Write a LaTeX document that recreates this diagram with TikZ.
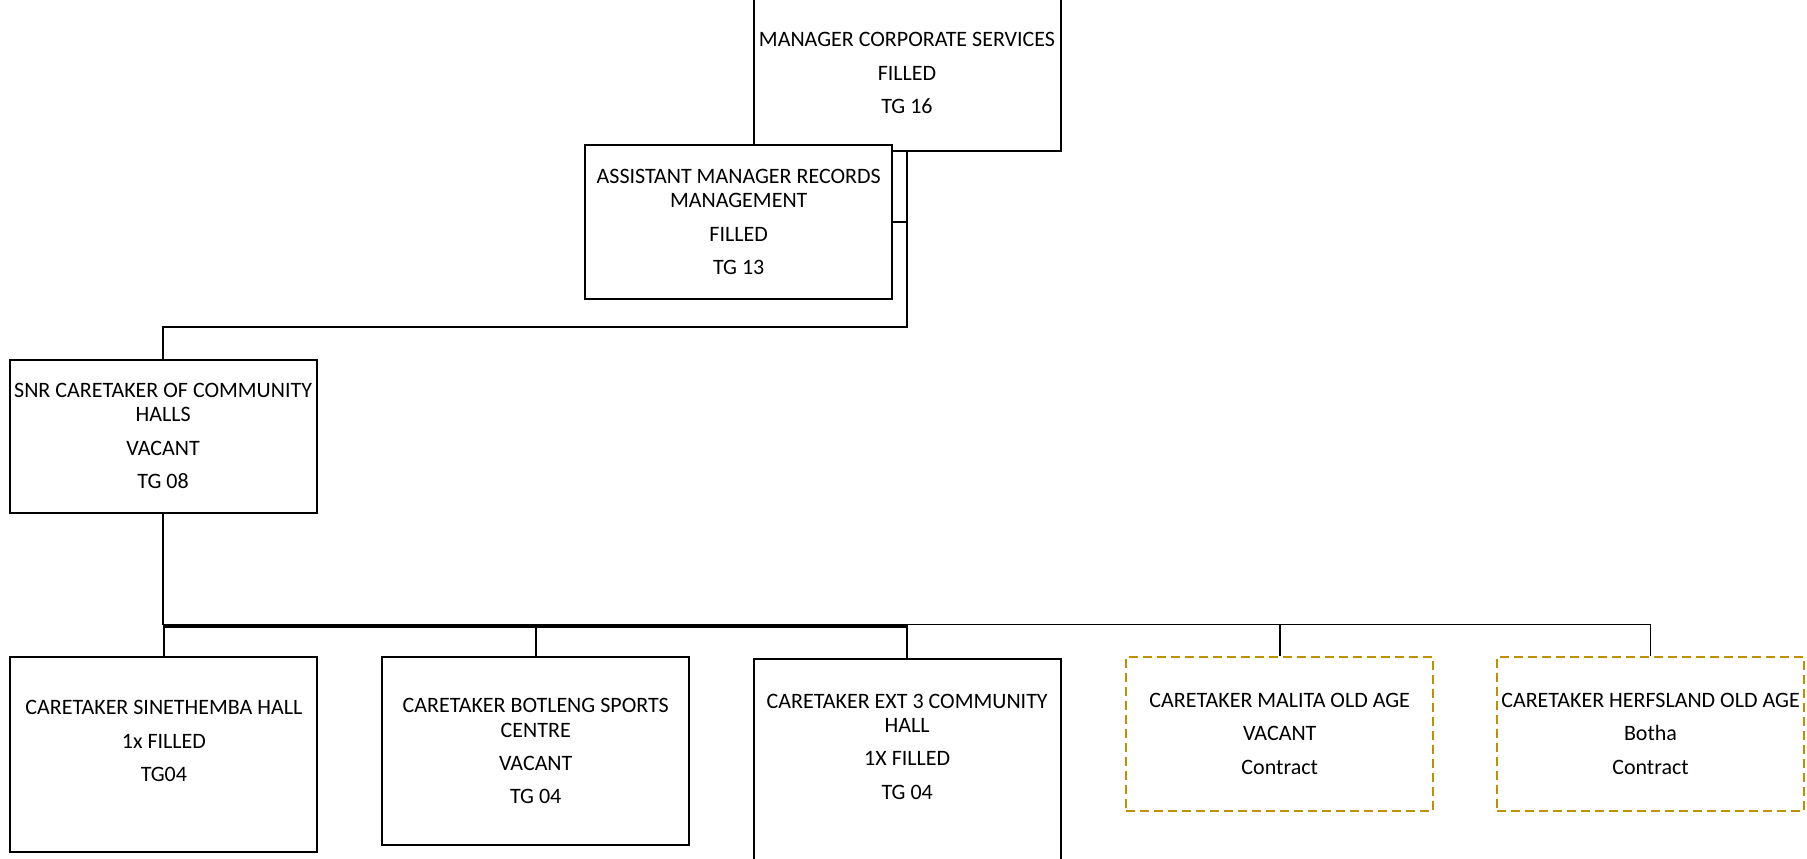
\documentclass[tikz,border=0pt]{standalone}
\usepackage{fontspec}
\setmainfont{Carlito}
\definecolor{contractgold}{RGB}{191,144,0}
\newcommand\pgap{\\[4.6pt]}
\begin{document}
\begin{tikzpicture}[x=0.5pt,y=-0.5pt,
  post/.style={draw=black, line width=1pt, fill=white, minimum width=153.5pt, inner sep=0pt},
  contract/.style={post, draw=contractgold, dash pattern=on 4.5pt off 2.5pt},
  posttext/.style={align=center, inner sep=0pt, font=\fontsize{11}{12.1}\selectfont},
  link/.style={line width=0.9pt}]
\useasboundingbox (0,0) rectangle (1807,858);
\clip (0,0) rectangle (1807,858);

% boxes
\node[post, minimum height=77.7pt] (mgr) at (907,73) {};
\node[post, minimum height=77.2pt] (asst) at (738.7,222.2) {};
\node[post, minimum height=76.7pt] (snr) at (163.1,436.7) {};
\node[post, minimum height=97.8pt] (sin) at (163.9,754.5) {};
\node[post, minimum height=94.2pt] (bot) at (535.7,750.9) {};
\node[post, minimum height=110.4pt] (ext) at (907.2,769.7) {};
\node[contract, minimum height=77pt] (mal) at (1279.7,733.7) {};
\node[contract, minimum height=77pt] (her) at (1650.5,733.7) {};

% texts
\node[posttext] (mgrT) at (907,73) {MANAGER CORPORATE SERVICES\pgap FILLED\pgap TG 16};
\node[posttext] (asstT) at (738.7,222.2) {ASSISTANT MANAGER RECORDS\\MANAGEMENT\pgap FILLED\pgap TG 13};
\node[posttext] (snrT) at (163.1,436.2) {SNR CARETAKER OF COMMUNITY\\HALLS\pgap VACANT\pgap TG 08};
\node[posttext] (sinT) at (163.9,741.2) {CARETAKER SINETHEMBA HALL\pgap 1x FILLED\pgap TG04};
\node[posttext] (botT) at (535.7,751.3) {CARETAKER BOTLENG SPORTS\\CENTRE\pgap VACANT\pgap TG 04};
\node[posttext] (extT) at (907.2,746.5) {CARETAKER EXT 3 COMMUNITY\\HALL\pgap 1X FILLED\pgap TG 04};
\node[posttext] (malT) at (1279.7,733.7) {CARETAKER MALITA OLD AGE\pgap VACANT\pgap Contract};
\node[posttext] (herT) at (1650.5,733.7) {CARETAKER HERFSLAND OLD AGE\pgap Botha\pgap Contract};

% connectors
\coordinate (elbow) at (907,327.3);
\coordinate (bus) at (163.1,624.5);
\draw[link] (mgr.south) -- (elbow) -| (snr.north);
\draw[link] (asst.east) -- (asst.east -| mgr.south);
\draw[link] (snr.south) -- (bus);
\draw[link] (bus) -- (bus -| her.north);
% heavier run of the bus under the first three posts
\draw[line width=2pt] ([yshift=-0.5pt]bus) -- ([yshift=-0.5pt]bus -| ext.north);
\foreach \c in {sin,bot,ext,mal,her}
  \draw[link] (bus -| \c.north) -- (\c.north);
\end{tikzpicture}
\end{document}
